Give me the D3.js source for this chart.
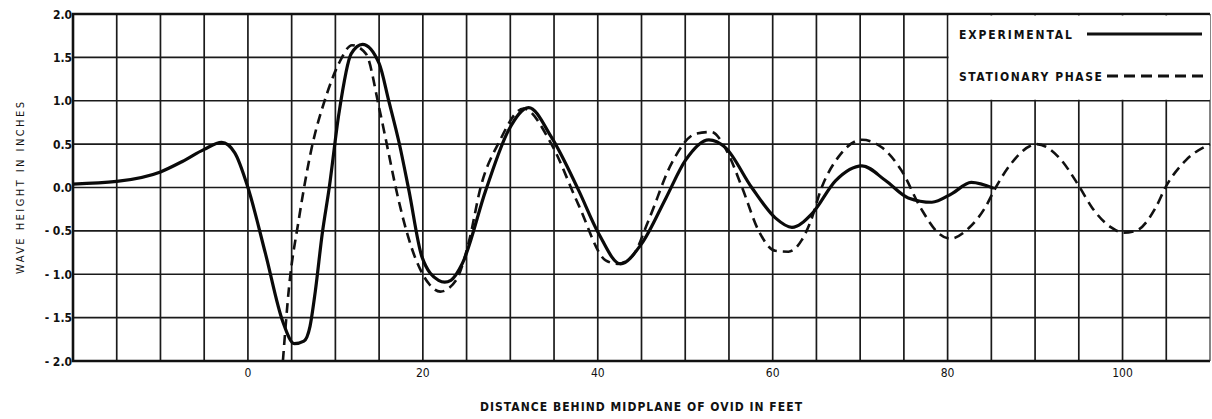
<!DOCTYPE html>
<html>
<head>
<meta charset="utf-8">
<script src="https://cdn.jsdelivr.net/npm/d3@7"></script>
<style>
  html, body { margin: 0; padding: 0; background: #fff; }
  svg { display: block; }
  text { font-family: "DejaVu Sans Condensed", "Liberation Sans Narrow", "DejaVu Sans", sans-serif; fill: #111; }
</style>
</head>
<body>
<div id="chart"></div>
<script>
// experimental wave profile (feet, inches)
var expX = [-20, -15, -10, -7.5, -5, -3, -1.5, 0, 2, 4, 5.3, 6.4, 7.1, 7.7, 8.5, 9.3, 10.4, 11.8, 13.1, 15, 16.1, 17.3,
            18.4, 19.9, 21.8, 22.5, 23.2, 24.5, 27.2, 29.8, 32.1, 34.7, 37.8, 40.1, 42.6, 45, 47.8, 50,
            52.7, 54.6, 57.6, 60.3, 62.2, 64.5, 67.2, 70.2, 72.9, 75.5, 78.2, 80.5, 82.7, 85.3];
var expY = [0.04, 0.07, 0.18, 0.3, 0.44, 0.52, 0.4, 0.0, -0.76, -1.55, -1.8, -1.77, -1.6, -1.2, -0.53, 0.0, 0.85, 1.54, 1.65, 1.43, 1.0, 0.51,
            -0.03, -0.8, -1.07, -1.09, -1.07, -0.88, -0.03, 0.66, 0.92, 0.58, -0.03, -0.53, -0.88, -0.65, -0.12, 0.31,
            0.55, 0.46, 0.0, -0.35, -0.46, -0.3, 0.08, 0.25, 0.08, -0.12, -0.17, -0.07, 0.06, -0.01];

// stationary phase prediction
var spX = [4.0, 4.7, 5.8, 7.3, 8.9, 10.4, 11.9, 13.5, 15, 16.1, 16.9, 18.7, 20.7, 22, 23.8, 25.3, 26.6, 28.7,
           31.5, 34.7, 37.8, 40.9, 42.3, 44.1, 45.8, 48.5, 51.2, 53, 54.7, 56.5, 58.4, 60.3, 61.8, 63.3,
           64.3, 65.6, 67.5, 70.2, 72.5, 74.7, 77, 79, 80.3, 82.4, 84.3, 85.5, 87.3, 90.2, 92.7, 95,
           96.5, 98.7, 100.1, 101.5, 103.8, 104.9, 107.2, 110];
var spY = [-2.0, -1.15, -0.38, 0.46, 1.04, 1.43, 1.64, 1.54, 0.92, 0.39, 0.0, -0.69, -1.11, -1.2, -1.07, -0.61, 0.0, 0.52,
           0.91, 0.5, -0.2, -0.84, -0.88, -0.77, -0.38, 0.29, 0.62, 0.64, 0.43, 0.0, -0.5, -0.73, -0.74, -0.61,
           -0.4, 0.0, 0.35, 0.55, 0.46, 0.2, -0.25, -0.53, -0.59, -0.47, -0.23, 0.0, 0.28, 0.5, 0.35, 0.02,
           -0.23, -0.46, -0.52, -0.5, -0.23, 0.0, 0.31, 0.5];

var xTicks = [0, 20, 40, 60, 80, 100];
var yTicks = [2.0, 1.5, 1.0, 0.5, 0.0, -0.5, -1.0, -1.5, -2.0];
var xGrid = d3.range(-15, 110, 5);
var legendNames = ["EXPERIMENTAL", "STATIONARY PHASE"];

var W = 1212, H = 419;
var plotL = 73, plotT = 14, plotR = 1210, plotB = 361;

var svg = d3.select("#chart").append("svg")
    .attr("width", W).attr("height", H);

var x = d3.scaleLinear().domain([-20, 110]).range([plotL, plotR]);
var y = d3.scaleLinear().domain([-2, 2]).range([plotB, plotT]);

// grid
var grid = svg.append("g").attr("stroke", "#1a1a1a").attr("stroke-width", 1.7);
grid.selectAll("line.v").data(xGrid).enter().append("line")
    .attr("x1", d => x(d)).attr("x2", d => x(d))
    .attr("y1", plotT).attr("y2", plotB);
grid.selectAll("line.h").data(yTicks).enter().append("line")
    .attr("x1", plotL).attr("x2", plotR)
    .attr("y1", d => y(d)).attr("y2", d => y(d));

// frame (top, left, bottom heavier)
svg.append("path")
    .attr("d", "M" + plotR + "," + plotT + "H" + plotL + "V" + plotB + "H" + plotR)
    .attr("fill", "none").attr("stroke", "#111").attr("stroke-width", 2.6);
svg.append("line")
    .attr("x1", plotR).attr("x2", plotR).attr("y1", plotT).attr("y2", plotB)
    .attr("stroke", "#333").attr("stroke-width", 1.2);

// legend box covers the grid
svg.append("rect")
    .attr("x", x(80) + 1).attr("y", plotT + 1.5)
    .attr("width", plotR - x(80) - 1).attr("height", y(1.0) - plotT - 2.5)
    .attr("fill", "#fff");

var line = d3.line()
    .x(d => x(d[0])).y(d => y(d[1]))
    .curve(d3.curveMonotoneX);

svg.append("path")
    .datum(d3.zip(spX, spY))
    .attr("d", line)
    .attr("fill", "none").attr("stroke", "#111")
    .attr("stroke-width", 2.6).attr("stroke-dasharray", "10,6");

svg.append("path")
    .datum(d3.zip(expX, expY))
    .attr("d", line)
    .attr("fill", "none").attr("stroke", "#0a0a0a")
    .attr("stroke-width", 3.2).attr("stroke-linejoin", "round");

// y tick labels
svg.selectAll("text.yt").data(yTicks).enter().append("text")
    .attr("x", plotL - 1).attr("y", d => y(d) + 4.5)
    .attr("text-anchor", "end")
    .attr("font-size", 12).attr("font-weight", "bold")
    .text(d => (d < 0 ? "- " + Math.abs(d).toFixed(1) : d.toFixed(1)));

// x tick labels
svg.selectAll("text.xt").data(xTicks).enter().append("text")
    .attr("x", d => x(d)).attr("y", 377)
    .attr("text-anchor", "middle")
    .attr("font-size", 12).attr("fill", "#222")
    .text(d => d);

// axis titles
svg.append("text")
    .attr("x", 641).attr("y", 411)
    .attr("text-anchor", "middle")
    .attr("font-size", 12).attr("font-weight", "bold")
    .attr("textLength", 322).attr("lengthAdjust", "spacing")
    .text("DISTANCE BEHIND MIDPLANE OF OVID IN FEET");

svg.append("text")
    .attr("transform", "translate(24,188) rotate(-90)")
    .attr("text-anchor", "middle")
    .attr("font-size", 11).attr("fill", "#444")
    .attr("textLength", 172).attr("lengthAdjust", "spacing")
    .text("WAVE HEIGHT IN INCHES");

// legend
svg.append("text")
    .attr("x", 959).attr("y", 39)
    .attr("font-size", 12).attr("font-weight", "bold")
    .attr("textLength", 113).attr("lengthAdjust", "spacing")
    .text(legendNames[0]);
svg.append("line")
    .attr("x1", 1087).attr("x2", 1202).attr("y1", 34).attr("y2", 34)
    .attr("stroke", "#111").attr("stroke-width", 3);

svg.append("text")
    .attr("x", 959).attr("y", 81)
    .attr("font-size", 12).attr("font-weight", "bold")
    .attr("textLength", 143).attr("lengthAdjust", "spacing")
    .text(legendNames[1]);
svg.append("line")
    .attr("x1", 1107).attr("x2", 1203).attr("y1", 76).attr("y2", 76)
    .attr("stroke", "#111").attr("stroke-width", 3)
    .attr("stroke-dasharray", "11,6");
</script>
</body>
</html>
